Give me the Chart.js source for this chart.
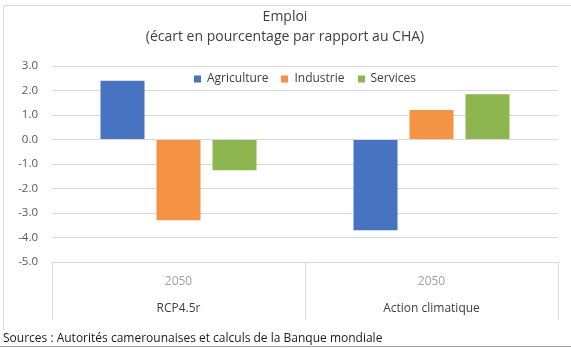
<!DOCTYPE html>
<html>
<head>
<meta charset="utf-8">
<script src="https://cdn.jsdelivr.net/npm/chart.js@4/dist/chart.umd.min.js"></script>
<style>
  html, body { margin: 0; padding: 0; background: #fff; }
  #wrap { position: relative; width: 571px; height: 348px; }
</style>
</head>
<body>
<div id="wrap"><canvas id="empChart" width="571" height="348"></canvas></div>
<script>
// ── Data ──
const years = ["2050", "2050"];
const scenarios = ["RCP4.5r", "Action climatique"];
const agriculture = [2.4, -3.7];
const industrie = [-3.3, 1.2];
const services = [-1.25, 1.85];
const yTicks = [3, 2, 1, 0, -1, -2, -3, -4, -5];

const FONT = "'Open Sans', sans-serif";

// frame, titles, legend, two-row category labels, source note
const decorPlugin = {
  id: "decor",
  beforeDraw(chart) {
    const ctx = chart.ctx;
    ctx.save();
    ctx.strokeStyle = "#d9d9d9";
    ctx.lineWidth = 1;
    ctx.beginPath();
    ctx.moveTo(3.5, 330);
    ctx.lineTo(3.5, 5.5);
    ctx.lineTo(571, 5.5);
    ctx.stroke();
    ctx.strokeStyle = "#a6a6a6";
    ctx.beginPath();
    ctx.moveTo(0, 346.5);
    ctx.lineTo(571, 346.5);
    ctx.stroke();
    ctx.restore();
  },
  afterDraw(chart) {
    const ctx = chart.ctx;
    const x = chart.scales.x;
    const area = chart.chartArea;
    ctx.save();
    ctx.textAlign = "center";
    ctx.textBaseline = "middle";
    ctx.fillStyle = "#404040";
    ctx.font = "14px " + FONT;
    ctx.fillText("Emploi", 285, 17);
    ctx.fillText("(écart en pourcentage par rapport au CHA)", 285, 37);

    // legend, centred over the plot, inside the top band
    ctx.font = "12px " + FONT;
    const box = 7, gapText = 6, gapItem = 13;
    const items = chart.data.datasets.map(ds => ({
      label: ds.label, color: ds.backgroundColor, w: ctx.measureText(ds.label).width
    }));
    const total = items.reduce((s, it) => s + box + gapText + it.w, 0) + gapItem * (items.length - 1);
    let lx = (area.left + area.right) / 2 - total / 2;
    const ly = 79;
    ctx.textAlign = "left";
    items.forEach(it => {
      ctx.fillStyle = it.color;
      ctx.fillRect(Math.round(lx), ly - 3.5, box, box);
      ctx.fillStyle = "#404040";
      ctx.fillText(it.label, lx + box + gapText, ly);
      lx += box + gapText + it.w + gapItem;
    });

    ctx.textAlign = "center";
    years.forEach((y, i) => {
      const px = x.getPixelForValue(i);
      ctx.font = "12px " + FONT;
      ctx.fillStyle = "#a0a0a0";
      ctx.fillText(y, px, 282);
      ctx.fillStyle = "#404040";
      ctx.fillText(scenarios[i], px, 309);
    });

    ctx.textAlign = "left";
    ctx.fillStyle = "#1a1a1a";
    ctx.font = "12px " + FONT;
    ctx.fillText("Sources : Autorités camerounaises et calculs de la Banque mondiale", 3, 339);
    ctx.restore();
  }
};

new Chart(document.getElementById("empChart"), {
  type: "bar",
  data: {
    labels: scenarios,
    datasets: [
      { label: "Agriculture", data: agriculture, backgroundColor: "#4773c0" },
      { label: "Industrie", data: industrie, backgroundColor: "#f59345" },
      { label: "Services", data: services, backgroundColor: "#8db650" }
    ]
  },
  options: {
    responsive: false,
    animation: false,
    devicePixelRatio: 1,
    categoryPercentage: 0.664,
    barPercentage: 0.786,
    layout: { padding: { top: 66, right: 13, bottom: 28, left: 0 } },
    plugins: {
      title: { display: false },
      tooltip: { enabled: false },
      legend: { display: false }
    },
    scales: {
      x: {
        offset: true,
        grid: {
          offset: true,
          drawOnChartArea: false,
          drawTicks: true,
          tickLength: 58,
          color: "#d9d9d9"
        },
        border: { display: true, color: "#d9d9d9" },
        ticks: { display: false },
        afterFit(scale) { scale.height = 58; }
      },
      y: {
        min: -5,
        max: 3,
        afterBuildTicks(scale) { scale.ticks = yTicks.map(v => ({ value: v })); },
        grid: { color: "#d9d9d9", drawTicks: false },
        border: { display: false },
        ticks: {
          padding: 14,
          color: "#595959",
          font: { family: FONT, size: 11.5 },
          callback: v => v.toFixed(1)
        },
        afterFit(scale) { scale.width = 52; }
      }
    }
  },
  plugins: [decorPlugin]
});
</script>
</body>
</html>
